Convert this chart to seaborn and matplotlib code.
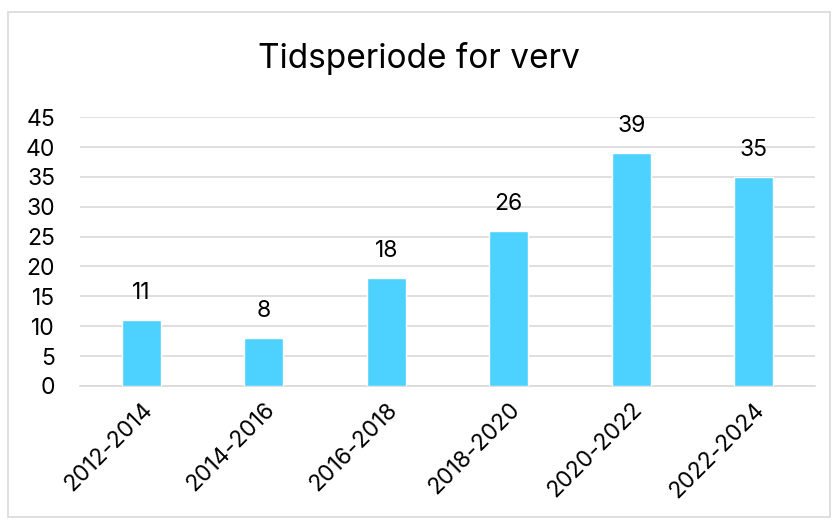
import matplotlib
matplotlib.use("Agg")
import matplotlib.pyplot as plt
import seaborn as sns
import pandas as pd

# data
periods = ["2012-2014", "2014-2016", "2016-2018", "2018-2020", "2020-2022", "2022-2024"]
counts = [11, 8, 18, 26, 39, 35]
title = "Tidsperiode for verv"

sns.set_style("white")
plt.rcParams['font.family'] = ['Inter', 'DejaVu Sans']
plt.rcParams['text.color'] = 'black'

df = pd.DataFrame({'Periode': periods, 'Antall': counts})

fig = plt.figure(figsize=(8.38, 5.23), dpi=100)
ax = fig.add_axes([0.0955, 0.262, 0.877, 0.514])

sns.barplot(data=df, x='Periode', y='Antall', color='#4DD2FF', width=0.32,
            saturation=1, ax=ax, zorder=3)

ax.set_ylim(0, 45)
ax.set_yticks(range(0, 46, 5))
ax.set_xlim(-0.5, len(periods) - 0.5)
ax.yaxis.grid(True, color='#D9D9D9', linewidth=1.2, zorder=0)
ax.set_axisbelow(True)
for s in ['top', 'right', 'left']:
    ax.spines[s].set_visible(False)
ax.spines['bottom'].set_color('#D9D9D9')
ax.spines['bottom'].set_linewidth(1.2)
ax.set_xlabel('')
ax.set_ylabel('')
ax.tick_params(axis='both', length=0, labelsize=16.5, colors='black')
ax.tick_params(axis='y', pad=18)
ax.tick_params(axis='x', pad=9)
plt.setp(ax.get_xticklabels(), rotation=45, ha='right', rotation_mode='anchor')

# value labels
for i, v in enumerate(counts):
    ax.annotate(str(v), (i, v), xytext=(0, 11.5), textcoords='offset points',
                ha='center', va='bottom', fontsize=16.5, color='black')

fig.text(0.5, 0.888, title, ha='center', va='center', fontsize=24, color='black')

# chart border
fig.patches.append(plt.Rectangle((0.009, 0.012), 0.982, 0.965, transform=fig.transFigure,
                                 fill=False, edgecolor='#D9D9D9', linewidth=1.2))

fig.savefig('out.png', dpi=100)
